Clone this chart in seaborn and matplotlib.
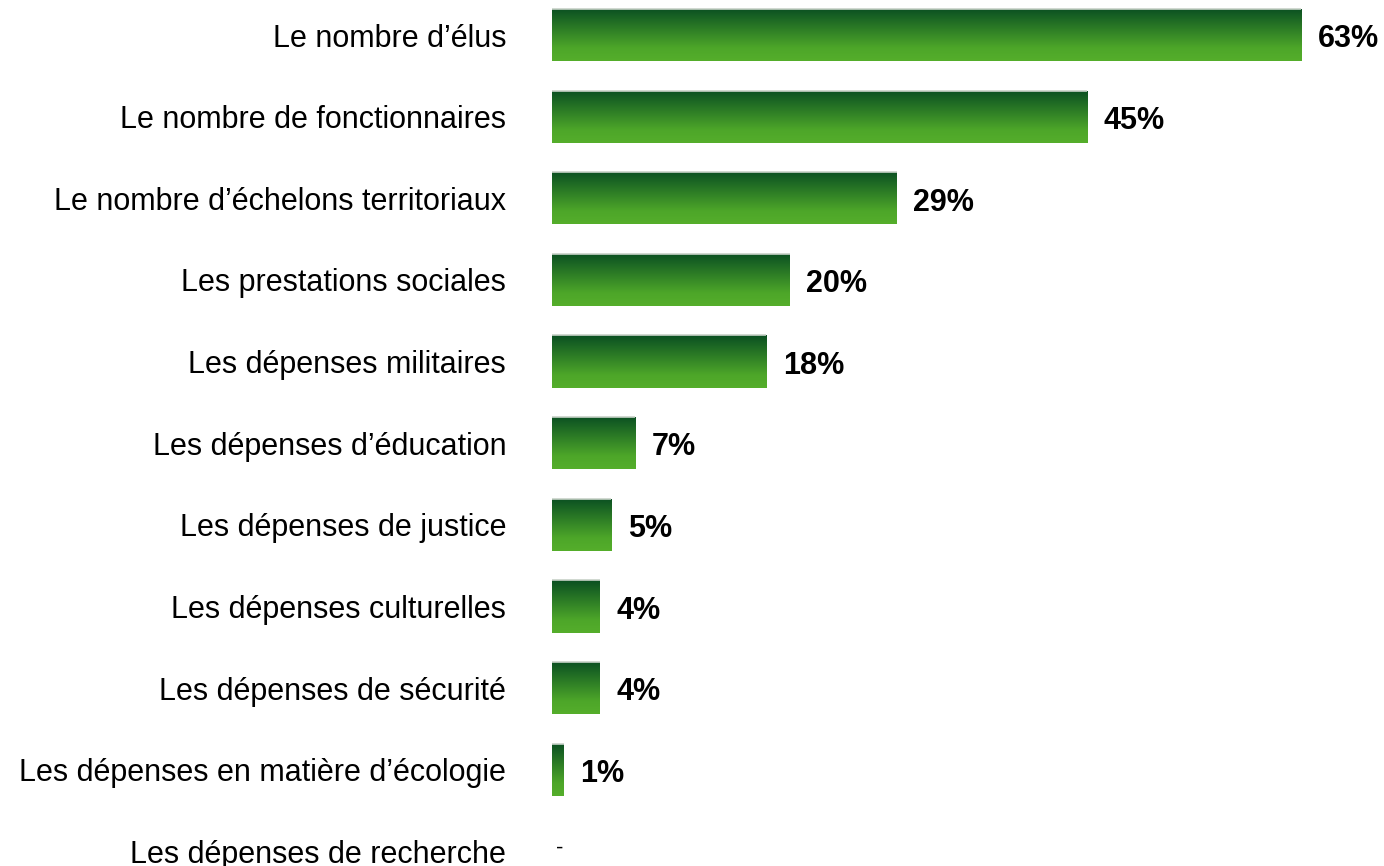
import numpy as np
import pandas as pd
import matplotlib
matplotlib.use("Agg")
import matplotlib.pyplot as plt
from matplotlib.colors import LinearSegmentedColormap
import seaborn as sns

categories = [
    "Le nombre d’élus",
    "Le nombre de fonctionnaires",
    "Le nombre d’échelons territoriaux",
    "Les prestations sociales",
    "Les dépenses militaires",
    "Les dépenses d’éducation",
    "Les dépenses de justice",
    "Les dépenses culturelles",
    "Les dépenses de sécurité",
    "Les dépenses en matière d’écologie",
    "Les dépenses de recherche",
]
values = [63, 45, 29, 20, 18, 7, 5, 4, 4, 1, 0]
value_labels = ["63%", "45%", "29%", "20%", "18%", "7%", "5%", "4%", "4%", "1%", "-"]

sns.set_theme(style="white")
plt.rcParams['font.family'] = ['Liberation Sans', 'DejaVu Sans']
plt.rcParams['text.color'] = 'black'
plt.rcParams['ytick.color'] = 'black'

df = pd.DataFrame({"categorie": categories, "valeur": values})

fig = plt.figure(figsize=(13.84, 8.66), dpi=100)
ax = fig.add_axes([552 / 1384, 0, 1 - 552 / 1384, 1])

sns.barplot(data=df, x="valeur", y="categorie", orient="h", color="#3a8a28",
            width=0.64, ax=ax)

# vertical gradient inside each bar: dark green on top, lighter green below
grad_cmap = LinearSegmentedColormap.from_list(
    "vert", [(0.0, "#0a4f22"), (0.75, "#4da629"), (1.0, "#55ae2b")])
grad = np.linspace(0, 1, 256).reshape(-1, 1)
for patch in ax.patches:
    x0, y0 = patch.get_x(), patch.get_y()
    w, h = patch.get_width(), patch.get_height()
    if w <= 0:
        continue
    patch.set_facecolor("none")
    im = ax.imshow(grad, cmap=grad_cmap, aspect="auto", origin="upper",
                   extent=(x0, x0 + w, y0 + h, y0), zorder=patch.get_zorder())
    im.set_clip_path(patch)
    # thin light edge on top of the bar
    ax.plot([x0, x0 + w], [y0, y0], color="#c8d2c8", lw=1.2, zorder=3,
            solid_capstyle="butt")

for patch, lab in zip(ax.patches, value_labels):
    w = patch.get_width()
    yc = patch.get_y() + patch.get_height() / 2
    if lab == "-":
        ax.annotate(lab, xy=(w, yc), xytext=(3, 2), textcoords="offset points",
                    ha="left", va="center", fontsize=16, color="black")
    else:
        ax.annotate(lab, xy=(w, yc), xytext=(12, -3), textcoords="offset points",
                    ha="left", va="center", fontsize=22, fontweight="bold",
                    color="black")

ax.set_xlim(0, (1384 - 552) / 11.89)
ax.set_ylim(10.18, -0.43)
ax.set_xlabel("")
ax.set_ylabel("")
ax.set_xticks([])
ax.tick_params(axis="y", length=0, pad=33, labelsize=22, labelcolor="black")
for s in ax.spines.values():
    s.set_visible(False)

fig.savefig("out.png", dpi=100)
